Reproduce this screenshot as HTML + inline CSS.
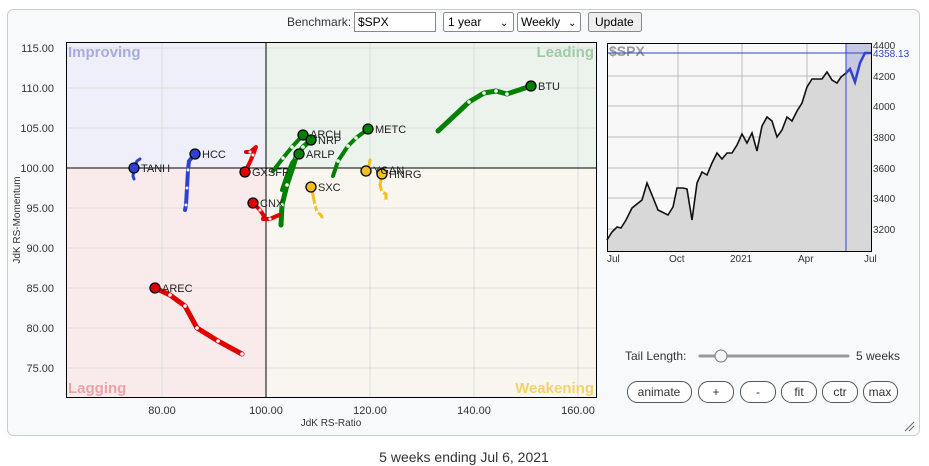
<!DOCTYPE html>
<html><head><meta charset="utf-8"><style>
body{margin:0;background:#fff;width:929px;height:466px;overflow:hidden;font-family:"Liberation Sans",sans-serif;}
svg{position:absolute;left:0;top:0}
</style></head><body>
<svg width="929" height="466" xmlns="http://www.w3.org/2000/svg" font-family="Liberation Sans, sans-serif">
<rect x="7.5" y="9.5" width="912" height="426" rx="6" fill="#f8f9fa" stroke="#ccc"/>
<!-- top controls -->
<text x="287" y="26" font-size="12" fill="#333">Benchmark:</text>
<rect x="354.5" y="12.5" width="81" height="19" fill="#fff" stroke="#888"/>
<text x="358" y="26" font-size="12">$SPX</text>
<rect x="443.5" y="12.5" width="70" height="19" rx="2" fill="#fff" stroke="#888"/>
<text x="448" y="26" font-size="12">1 year</text><text x="500" y="26" font-size="10">⌄</text>
<rect x="517.5" y="12.5" width="63" height="19" rx="2" fill="#fff" stroke="#888"/>
<text x="521" y="26" font-size="12">Weekly</text><text x="568" y="26" font-size="10">⌄</text>
<rect x="588.5" y="12.5" width="53" height="19" rx="2" fill="#eee" stroke="#888"/>
<text x="595" y="26" font-size="12">Update</text>
<!-- quadrants -->
<rect x="66" y="42" width="200" height="126" fill="#eeeff8"/>
<rect x="266" y="42" width="330" height="126" fill="#ebf3ec"/>
<rect x="66" y="168" width="200" height="229" fill="#f9ebec"/>
<rect x="266" y="168" width="330" height="229" fill="#f8f6ee"/>
<g stroke="#ddd" stroke-width="1">
<line x1="162" y1="42" x2="162" y2="397"/><line x1="370" y1="42" x2="370" y2="397"/><line x1="474" y1="42" x2="474" y2="397"/><line x1="578" y1="42" x2="578" y2="397"/>
<line x1="66" y1="48" x2="596" y2="48"/><line x1="66" y1="88" x2="596" y2="88"/><line x1="66" y1="128" x2="596" y2="128"/><line x1="66" y1="208" x2="596" y2="208"/><line x1="66" y1="248" x2="596" y2="248"/><line x1="66" y1="288" x2="596" y2="288"/><line x1="66" y1="328" x2="596" y2="328"/><line x1="66" y1="368" x2="596" y2="368"/>
</g>
<line x1="266" y1="42" x2="266" y2="397" stroke="#000"/>
<line x1="66" y1="168" x2="596" y2="168" stroke="#000"/>
<rect x="66.5" y="42.5" width="530" height="355" fill="none" stroke="#000"/>
<g font-size="15" font-weight="bold">
<text x="68" y="57" fill="#a7acde">Improving</text>
<text x="594" y="57" fill="#9fcba4" text-anchor="end">Leading</text>
<text x="68" y="393" fill="#efa2a6">Lagging</text>
<text x="594" y="393" fill="#f2d36a" text-anchor="end">Weakening</text>
</g>
<g font-size="11" fill="#333" text-anchor="end">
<text x="54" y="52">115.00</text><text x="54" y="92">110.00</text><text x="54" y="132">105.00</text><text x="54" y="172">100.00</text><text x="54" y="212">95.00</text><text x="54" y="252">90.00</text><text x="54" y="292">85.00</text><text x="54" y="332">80.00</text><text x="54" y="372">75.00</text>
</g>
<g font-size="11" fill="#333" text-anchor="middle">
<text x="162" y="414">80.00</text><text x="266" y="414">100.00</text><text x="370" y="414">120.00</text><text x="474" y="414">140.00</text><text x="578" y="414">160.00</text>
<text x="331" y="426" font-size="10">JdK RS-Ratio</text>
</g>
<text transform="translate(20,220) rotate(-90)" font-size="10" fill="#333" text-anchor="middle">JdK RS-Momentum</text>
<!-- series -->
<g fill="none" stroke-linecap="round" stroke-linejoin="round">
<polyline stroke="#008000" stroke-width="5" points="438,131 469,102 484,93 496,91 507,94 531,86"/>
<polyline stroke="#008000" stroke-width="4" points="333,176 338,161 348,146 356,138 368,129"/>
<polyline stroke="#008000" stroke-width="4" points="273,171 283,158 292,147 303,135"/>
<polyline stroke="#008000" stroke-width="5" points="281,225 282,205 287,185 292,170 296,157 303,147 311,140"/>
<polyline stroke="#008000" stroke-width="4" points="282,190 287,175 292,163 299,154"/>
<polyline stroke="#e00000" stroke-width="4" points="246,152 250,152 256,147 253,155 250,162 245,172"/>
<polyline stroke="#e00000" stroke-width="4" points="279,215 270,219 263,219 264,216 260,210 253,203"/>
<polyline stroke="#e00000" stroke-width="5" points="242,354 218,341 197,328 185,306 170,295 155,288"/>
<polyline stroke="#f0c020" stroke-width="3" points="322,217 321,215 317,212 315,205 313,195 311,187"/>
<polyline stroke="#f0c020" stroke-width="3" points="370,160 369,165 366,171 365,175"/>
<polyline stroke="#f0c020" stroke-width="3" points="386,201 386,194 382,192 380,185 382,174"/>
<polyline stroke="#3040d0" stroke-width="3" points="140,159 137,161 134,168 133,176 134,179"/>
<polyline stroke="#3040d0" stroke-width="4" points="185,210 186,205 187,188 188,170 189,161 195,154"/>
</g>
<g fill="#fff" stroke="none">
<circle cx="469" cy="102" r="1.8"/><circle cx="484" cy="93" r="1.8"/><circle cx="496" cy="91" r="1.8"/><circle cx="507" cy="94" r="1.8"/>
<circle cx="338" cy="161" r="1.8"/><circle cx="348" cy="146" r="1.8"/><circle cx="356" cy="138" r="1.8"/>
<circle cx="283" cy="158" r="1.8"/><circle cx="292" cy="147" r="1.8"/><circle cx="282" cy="205" r="1.8"/><circle cx="287" cy="185" r="1.8"/><circle cx="296" cy="157" r="1.8"/><circle cx="303" cy="147" r="1.8"/>
<circle cx="185" cy="306" r="1.8"/><circle cx="170" cy="295" r="1.8"/><circle cx="197" cy="328" r="1.8"/><circle cx="218" cy="341" r="1.8"/><circle cx="242" cy="354" r="1.8"/>
<circle cx="315" cy="205" r="1.5"/><circle cx="317" cy="212" r="1.5"/><circle cx="382" cy="192" r="1.5"/><circle cx="386" cy="201" r="1.5"/>
<circle cx="188" cy="170" r="1.5"/><circle cx="187" cy="188" r="1.5"/><circle cx="186" cy="205" r="1.5"/>
<circle cx="260" cy="210" r="1.5"/><circle cx="270" cy="219" r="1.5"/><circle cx="250" cy="152" r="1.5"/><circle cx="253" cy="155" r="1.5"/>
</g>
<g stroke="#000" stroke-width="1.3">
<circle cx="531" cy="86" r="5" fill="#008000"/><circle cx="368" cy="129" r="5" fill="#008000"/><circle cx="303" cy="135" r="5" fill="#008000"/><circle cx="311" cy="140" r="5" fill="#008000"/><circle cx="299" cy="154" r="5" fill="#008000"/>
<circle cx="245" cy="172" r="5" fill="#e00000"/><circle cx="253" cy="203" r="5" fill="#e00000"/><circle cx="155" cy="288" r="5" fill="#e00000"/>
<circle cx="311" cy="187" r="5" fill="#f0c020"/><circle cx="366" cy="171" r="5" fill="#f0c020"/><circle cx="382" cy="174" r="5" fill="#f0c020"/>
<circle cx="134" cy="168" r="5" fill="#3040d0"/><circle cx="195" cy="154" r="5" fill="#3040d0"/>
</g>
<g font-size="11" fill="#222">
<text x="538" y="90">BTU</text><text x="375" y="133">METC</text><text x="310" y="138">ARCH</text><text x="318" y="144">NRP</text><text x="306" y="158">ARLP</text>
<text x="252" y="176">GXSFF</text><text x="260" y="207">CNX</text><text x="162" y="292">AREC</text><text x="318" y="191">SXC</text>
<text x="373" y="174">YGAN</text><text x="389" y="178">HNRG</text><text x="141" y="172">TANH</text><text x="202" y="158">HCC</text>
</g>
<!-- SPX chart -->
<rect x="607" y="43" width="264" height="208" fill="#f8f8f8"/>
<g stroke="#bbb">
<line x1="678" y1="43" x2="678" y2="251"/><line x1="742" y1="43" x2="742" y2="251"/><line x1="807" y1="43" x2="807" y2="251"/>
<line x1="607" y1="76" x2="871" y2="76"/><line x1="607" y1="106" x2="871" y2="106"/><line x1="607" y1="137" x2="871" y2="137"/><line x1="607" y1="168" x2="871" y2="168"/><line x1="607" y1="198" x2="871" y2="198"/><line x1="607" y1="229" x2="871" y2="229"/>
</g>
<text x="609" y="56" font-size="14" font-weight="bold" fill="#999">$SPX</text>
<rect x="846" y="43" width="25" height="208" fill="#c5c8e0"/>
<polygon fill="#d8d8d8" points="607,251 607,240 612,232 617,227 621,228 626,220 632,208 637,204 642,200 647,183 652,195 658,210 668,215 673,207 677,188 683,188 687,189 692,220 697,183 702,172 707,175 712,163 717,153 722,159 727,153 732,153 737,145 742,134 747,143 752,133 757,151 762,126 767,117 772,121 777,137 782,130 787,117 792,121 797,111 802,103 807,87 812,79 817,79 822,79 827,72 832,80 837,83 841,77 846,73 850,69 855,82 860,63 865,53 871,53 871,251"/>
<polyline fill="none" stroke="#111" stroke-width="1.6" points="607,240 612,232 617,227 621,228 626,220 632,208 637,204 642,200 647,183 652,195 658,210 668,215 673,207 677,188 683,188 687,189 692,220 697,183 702,172 707,175 712,163 717,153 722,159 727,153 732,153 737,145 742,134 747,143 752,133 757,151 762,126 767,117 772,121 777,137 782,130 787,117 792,121 797,111 802,103 807,87 812,79 817,79 822,79 827,72 832,80 837,83 841,77 846,73"/>
<polyline fill="none" stroke="#3344cc" stroke-width="2.5" points="846,73 850,69 855,82 860,63 865,53 871,53"/>
<line x1="607" y1="53" x2="871" y2="53" stroke="#3344cc"/>
<line x1="846" y1="43" x2="846" y2="251" stroke="#3344cc"/>
<rect x="607.5" y="43.5" width="264" height="208" fill="none" stroke="#000"/>
<g font-size="10" fill="#333">
<text x="873" y="49">4400</text><text x="873" y="57" fill="#3344cc">4358.13</text><text x="873" y="80">4200</text><text x="873" y="110">4000</text><text x="873" y="141">3800</text><text x="873" y="172">3600</text><text x="873" y="202">3400</text><text x="873" y="233">3200</text>
<text x="607" y="262">Jul</text><text x="669" y="262">Oct</text><text x="730" y="262">2021</text><text x="798" y="262">Apr</text><text x="864" y="262">Jul</text>
</g>
<!-- bottom controls -->
<text x="625" y="360" font-size="12" fill="#333">Tail Length:</text>
<line x1="700" y1="356" x2="848" y2="356" stroke="#999" stroke-width="3" stroke-linecap="round"/>
<circle cx="721" cy="356" r="6" fill="#f4f4f4" stroke="#777"/>
<text x="856" y="360" font-size="12" fill="#333">5 weeks</text>
<g font-size="12" fill="#333" text-anchor="middle">
<rect x="627.5" y="381.5" width="64" height="21" rx="10" fill="#fff" stroke="#555"/><text x="659" y="396">animate</text>
<rect x="698.5" y="381.5" width="35" height="21" rx="10" fill="#fff" stroke="#555"/><text x="716" y="396">+</text>
<rect x="740.5" y="381.5" width="35" height="21" rx="10" fill="#fff" stroke="#555"/><text x="758" y="396">-</text>
<rect x="781.5" y="381.5" width="35" height="21" rx="10" fill="#fff" stroke="#555"/><text x="799" y="396">fit</text>
<rect x="822.5" y="381.5" width="35" height="21" rx="10" fill="#fff" stroke="#555"/><text x="840" y="396">ctr</text>
<rect x="863.5" y="381.5" width="34" height="21" rx="10" fill="#fff" stroke="#555"/><text x="880" y="396">max</text>
</g>
<g stroke="#666"><line x1="905" y1="431" x2="914" y2="422"/><line x1="909" y1="431" x2="914" y2="426"/></g>
<text x="464" y="462" font-size="14" fill="#333" text-anchor="middle">5 weeks ending Jul 6, 2021</text>
</svg>
</body></html>
